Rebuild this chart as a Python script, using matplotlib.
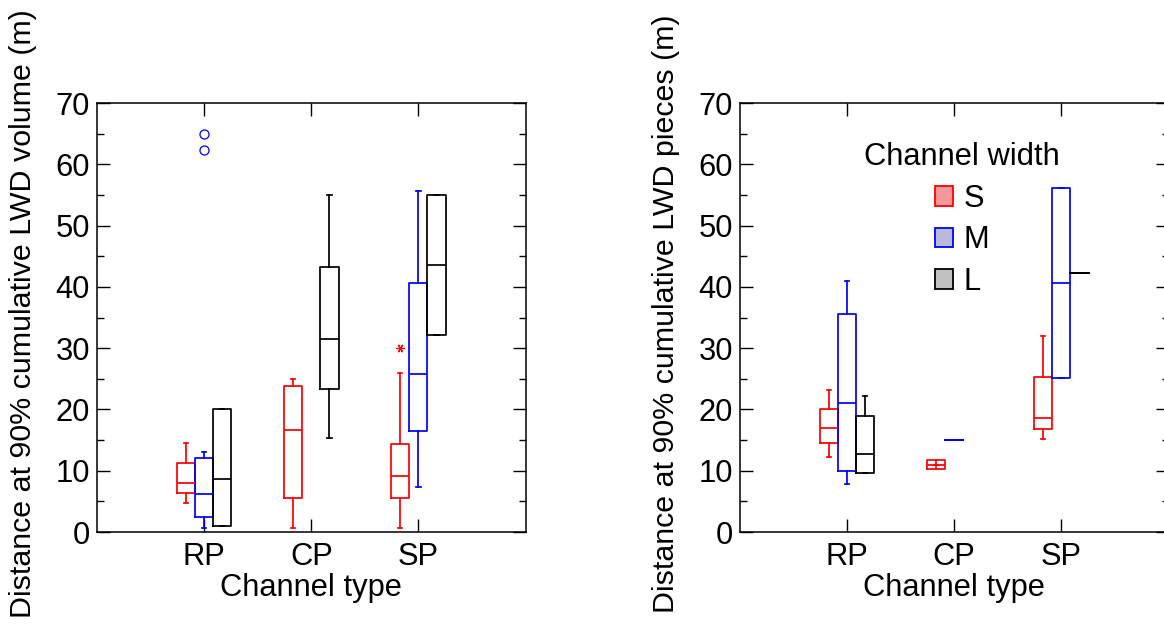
import numpy as np
import matplotlib
matplotlib.use("Agg")
import matplotlib.pyplot as plt
from matplotlib.patches import Patch
from matplotlib.ticker import MultipleLocator

plt.rcParams['font.family'] = ['Liberation Sans', 'DejaVu Sans']

categories = ['RP', 'CP', 'SP']
widths_names = ['S', 'M', 'L']

# stats per category: (whisker low, Q1, median, Q3, whisker high); None = no data
vol_S = [(4.7, 6.3, 8.0, 11.2, 14.5), (0.6, 5.5, 16.6, 23.9, 25.0), (0.6, 5.6, 9.2, 14.3, 26.0)]
vol_M = [(0.6, 2.5, 6.2, 12.1, 13.0), None, (7.4, 16.5, 25.7, 40.7, 55.7)]
vol_L = [(1.0, 1.0, 8.7, 20.0, 20.0), (15.4, 23.4, 31.5, 43.2, 55.0), (32.1, 32.1, 43.5, 55.0, 55.0)]
vol_S_fliers = [[], [], [30.0]]
vol_M_fliers = [[62.4, 65.0], [], []]
vol_L_fliers = [[], [], []]

pcs_S = [(12.3, 14.6, 16.9, 20.1, 23.2), (11.0, 10.3, 11.0, 11.7, 11.0), (15.1, 16.8, 18.6, 25.3, 32.0)]
pcs_M = [(7.8, 10.0, 21.0, 35.5, 41.0), (15.0, 15.0, 15.0, 15.0, 15.0), (25.1, 25.1, 40.7, 56.2, 56.2)]
pcs_L = [(9.6, 9.7, 12.8, 18.9, 22.2), None, (42.3, 42.3, 42.3, 42.3, 42.3)]
pcs_S_fliers = [[], [], []]
pcs_M_fliers = [[], [], []]
pcs_L_fliers = [[], [], []]

colors = {'S': '#ff0000', 'M': '#0000ff', 'L': '#000000'}
fills = {'S': '#f5969b', 'M': '#b9b9d9', 'L': '#c0c0c0'}
offsets = {'S': -0.17, 'M': 0.0, 'L': 0.17}
flier_markers = {'S': (6, 2, 90), 'M': 'o', 'L': 'o'}

FS = 22.2
FSL = 21.9
fig = plt.figure(figsize=(11.64, 6.27), dpi=100)
W, H = 1164, 627
ax1 = fig.add_axes([97 / W, 1 - 532 / H, 428.5 / W, 429 / H])
ax2 = fig.add_axes([740 / W, 1 - 532 / H, 428.5 / W, 429 / H])


def draw(ax, series, fliers):
    for name in widths_names:
        stats, pos = [], []
        for i, s in enumerate(series[name]):
            if s is None:
                continue
            wl, q1, med, q3, wh = s
            stats.append(dict(whislo=wl, q1=q1, med=med, q3=q3, whishi=wh,
                              fliers=fliers[name][i]))
            pos.append(i + 1 + offsets[name])
        c = colors[name]
        lp = dict(color=c, linewidth=1.25)
        ms = 6.5 if flier_markers[name] == 'o' else 6
        ax.bxp(stats, positions=pos, widths=0.17, capwidths=0.04,
               boxprops=lp, medianprops=lp, whiskerprops=lp, capprops=lp,
               flierprops=dict(marker=flier_markers[name], markerfacecolor='none',
                               markeredgecolor=c, markersize=ms, markeredgewidth=0.9),
               manage_ticks=False)


draw(ax1, {'S': vol_S, 'M': vol_M, 'L': vol_L},
     {'S': vol_S_fliers, 'M': vol_M_fliers, 'L': vol_L_fliers})
draw(ax2, {'S': pcs_S, 'M': pcs_M, 'L': pcs_L},
     {'S': pcs_S_fliers, 'M': pcs_M_fliers, 'L': pcs_L_fliers})

ylabels = ['Distance at 90% cumulative LWD volume (m)',
           'Distance at 90% cumulative LWD pieces (m)']
for ax, yl in zip([ax1, ax2], ylabels):
    ax.set_xlim(0, 4)
    ax.set_ylim(0, 70)
    ax.set_xticks([1, 2, 3])
    ax.set_xticklabels(categories)
    ax.set_yticks(np.arange(0, 71, 10))
    ax.yaxis.set_minor_locator(MultipleLocator(5))
    ax.tick_params(which='both', direction='in', top=True, right=True,
                   labelsize=FS, width=1.0)
    ax.tick_params(which='major', length=9.5, pad=5)
    ax.tick_params(which='minor', length=5)
    ax.tick_params(axis='x', pad=7)
    for sp in ax.spines.values():
        sp.set_linewidth(1.1)
    ax.set_xlabel('Channel type', fontsize=FS, labelpad=1)
    ax.set_ylabel(yl, fontsize=FSL)
    ax.yaxis.set_label_coords(-0.14, 0.508)

handles = [Patch(facecolor=fills[n], edgecolor=colors[n], linewidth=1.3, label=n)
           for n in widths_names]
leg = ax2.legend(handles=handles, title='Channel width', loc='upper center',
                 bbox_to_anchor=(962 / W, 1 - 142 / H), bbox_transform=fig.transFigure,
                 frameon=False, fontsize=FS, title_fontsize=FS,
                 handlelength=0.6, handleheight=0.6, handletextpad=0.35,
                 labelspacing=0.38, borderpad=0, borderaxespad=0)

fig.savefig('out.png', dpi=100)
